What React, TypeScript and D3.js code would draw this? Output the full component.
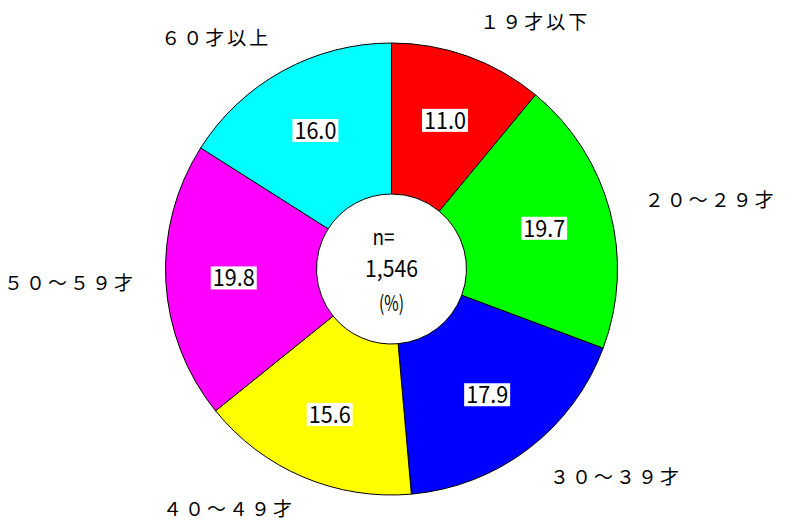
import React from "react";
import * as d3 from "d3";

const categories = ["１９才以下", "２０～２９才", "３０～３９才", "４０～４９才", "５０～５９才", "６０才以上"];
const values = [11.0, 19.7, 17.9, 15.6, 19.8, 16.0];
const colors = ["#ff0000", "#00ff00", "#0000ff", "#ffff00", "#ff00ff", "#00ffff"];
const centerLines = ["n=", "1,546", "(%)"];

const W = 785;
const H = 525;
const cx = 391.5;
const cy = 269;
const outerR = 226;
const innerR = 75;
const labelR = 158;
const catR = 262;

export default function App() {
  const data = categories.map((c, i) => ({ cat: c, value: values[i], color: colors[i] }));
  const pie = d3
    .pie<any>()
    .sort(null)
    .value((d: any) => d.value)
    .startAngle(0)
    .endAngle(2 * Math.PI);
  const arcs = pie(data);
  const arc = d3.arc<any>().innerRadius(innerR).outerRadius(outerR);
  const labelArc = d3.arc<any>().innerRadius(labelR).outerRadius(labelR);
  const catArc = d3.arc<any>().innerRadius(catR).outerRadius(catR);

  const labelFont = "'Noto Sans CJK JP', 'DejaVu Sans', sans-serif";

  return (
    <svg
      width={W}
      height={H}
      style={{ position: "absolute", left: 0, top: 0, display: "block", background: "#fff" }}
    >
      <g transform={`translate(${cx},${cy})`}>
        {arcs.map((a, i) => (
          <path key={i} d={arc(a) as string} fill={a.data.color} stroke="#000" strokeWidth={1} />
        ))}
        {arcs.map((a, i) => {
          const [x, y] = labelArc.centroid(a);
          const txt = a.data.value.toFixed(1);
          return (
            <g key={"l" + i} transform={`translate(${x},${y})`}>
              <rect x={-23} y={-11.5} width={46} height={23} fill="#fff" />
              <text
                x={0}
                y={8.5}
                textAnchor="middle"
                fontFamily={labelFont}
                fontSize={23}
                textLength={42}
                lengthAdjust="spacingAndGlyphs"
                fill="#000"
              >
                {txt}
              </text>
            </g>
          );
        })}
        {arcs.map((a, i) => {
          const [x, y] = catArc.centroid(a);
          const mid = (a.startAngle + a.endAngle) / 2;
          const right = mid < Math.PI;
          return (
            <text
              key={"c" + i}
              x={right ? x : x + 6}
              y={y + 6}
              textAnchor={right ? "start" : "end"}
              fontFamily={labelFont}
              fontSize={19}
              letterSpacing={3}
              fill="#000"
            >
              {a.data.cat}
            </text>
          );
        })}
        <text x={-8} y={-24} textAnchor="middle" fontFamily={labelFont} fontSize={22} textLength={22} lengthAdjust="spacingAndGlyphs">
          {centerLines[0]}
        </text>
        <text x={0} y={8} textAnchor="middle" fontFamily={labelFont} fontSize={23} textLength={53} lengthAdjust="spacingAndGlyphs">
          {centerLines[1]}
        </text>
        <text x={0} y={42} textAnchor="middle" fontFamily={labelFont} fontSize={21} textLength={25} lengthAdjust="spacingAndGlyphs">
          {centerLines[2]}
        </text>
      </g>
    </svg>
  );
}
